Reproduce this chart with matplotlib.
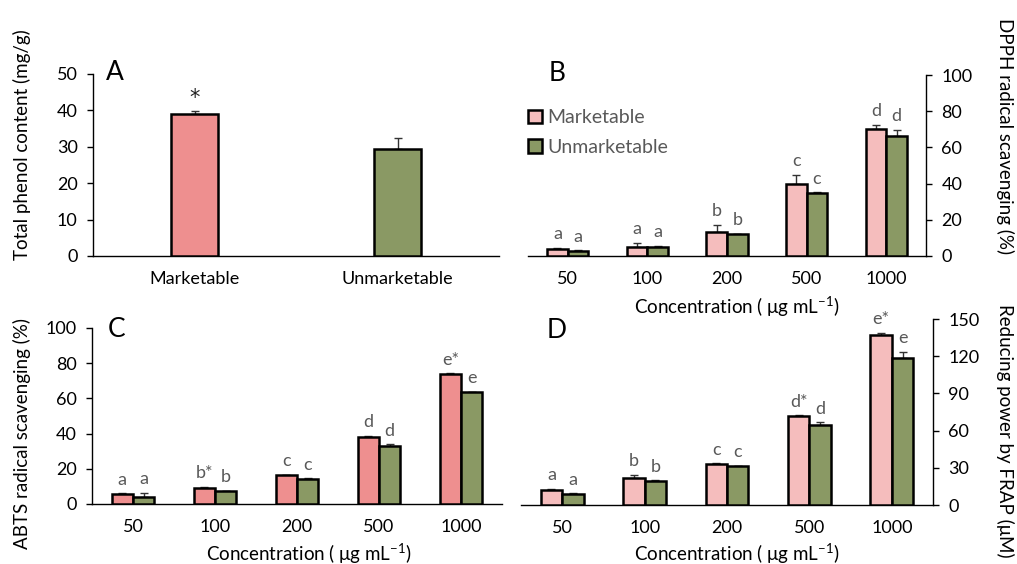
import matplotlib
matplotlib.use("Agg")
import matplotlib.pyplot as plt
import numpy as np

plt.rcParams['font.family'] = ['Lato', 'DejaVu Sans']

# ---------------- data ----------------
groups = ["Marketable", "Unmarketable"]
conc = ["50", "100", "200", "500", "1000"]

phenol = [39.0, 29.3]
phenol_err = [0.8, 3.2]
phenol_sig = ["*", ""]

dpph_m = [3.6, 4.8, 13.0, 40.0, 70.2]
dpph_m_err = [1.0, 2.6, 4.4, 5.0, 2.4]
dpph_u = [2.8, 5.0, 12.0, 35.0, 66.4]
dpph_u_err = [0.4, 0.6, 0.4, 0.3, 3.3]
dpph_m_sig = ["a", "a", "b", "c", "d"]
dpph_u_sig = ["a", "a", "b", "c", "d"]

abts_m = [5.5, 9.3, 16.2, 38.0, 74.1]
abts_m_err = [0.7, 0.4, 0.5, 0.9, 0.3]
abts_u = [4.2, 7.2, 14.3, 33.0, 63.5]
abts_u_err = [2.2, 0.4, 0.4, 0.9, 0.3]
abts_m_sig = ["a", "b*", "c", "d", "e*"]
abts_u_sig = ["a", "b", "c", "d", "e"]

frap_m = [12.4, 21.5, 33.1, 71.4, 137.4]
frap_m_err = [0.8, 2.7, 0.4, 0.8, 1.6]
frap_u = [8.9, 19.4, 31.2, 64.4, 118.8]
frap_u_err = [0.6, 0.4, 0.5, 2.4, 4.8]
frap_m_sig = ["a", "b", "c", "d*", "e*"]
frap_u_sig = ["a", "b", "c", "d", "e"]

PINK_DARK = "#EE8F8F"
PINK_LIGHT = "#F5BDBD"
GREEN = "#8A9964"
GRAY_TXT = "#595959"
FS = 13
FSL = 13.5

W, H = 1017, 564
fig = plt.figure(figsize=(W / 100, H / 100), dpi=100)


def rect(l, r, t, b):
    return [l / W, 1 - b / H, (r - l) / W, (b - t) / H]


def style(ax, side):
    for s in ["top", "left", "right"]:
        ax.spines[s].set_visible(False)
    ax.spines[side].set_visible(True)
    for s in [side, "bottom"]:
        ax.spines[s].set_linewidth(1.0)
        ax.spines[s].set_color("black")
    if side == "right":
        ax.yaxis.tick_right()
        ax.yaxis.set_label_position("right")
    ax.tick_params(axis="y", direction="out", length=4, width=1.0, pad=7, labelsize=FS, colors="black")
    ax.tick_params(axis="x", length=0, pad=11, labelsize=FS)


def errbars(ax, x, vals, errs):
    ax.errorbar(x, vals, yerr=[np.zeros(len(vals)), errs], fmt="none",
                ecolor="#333333", elinewidth=1.0, capsize=3, capthick=1.0, zorder=2)


def labels(ax, x, vals, errs, sig, color, fs=FS, family=None, dy=4):
    for xi, v, e, s in zip(x, vals, errs, sig):
        if s:
            kw = {"family": family} if family else {}
            ax.annotate(s, (xi, v + e), xytext=(0, dy), textcoords="offset points",
                        ha="center", va="bottom", fontsize=fs, color=color, **kw)


def paired(ax, m, me, u, ue, ms, us, pink, ylim, yticks):
    x = np.arange(len(conc))
    w = 0.26
    ax.bar(x - w / 2, m, w, color=pink, edgecolor="black", linewidth=1.8, zorder=3, label=groups[0])
    ax.bar(x + w / 2, u, w, color=GREEN, edgecolor="black", linewidth=1.8, zorder=3, label=groups[1])
    errbars(ax, x - w / 2, m, me)
    errbars(ax, x + w / 2, u, ue)
    labels(ax, x - w / 2, m, me, ms, GRAY_TXT)
    labels(ax, x + w / 2, u, ue, us, GRAY_TXT)
    ax.set_xlim(-0.5, len(conc) - 0.5)
    ax.set_xticks(x)
    ax.set_xticklabels(conc)
    ax.set_ylim(*ylim)
    ax.set_yticks(yticks)


xlab = "Concentration ( \u03bcg mL$^{\\mathregular{-1}}$)"

# ---------- A ----------
axA = fig.add_axes(rect(93, 499, 74, 256))
style(axA, "left")
xa = np.arange(len(groups))
axA.bar(xa, phenol, 0.23, color=[PINK_DARK, GREEN], edgecolor="black", linewidth=1.8, zorder=3)
errbars(axA, xa, phenol, phenol_err)
labels(axA, xa, phenol, phenol_err, phenol_sig, "#222222", fs=15, family="DejaVu Sans", dy=2)
axA.set_xlim(-0.5, 1.5)
axA.set_xticks(xa)
axA.set_xticklabels(groups)
axA.set_ylim(0, 50)
axA.set_yticks(range(0, 51, 10))
axA.set_ylabel("Total phenol content (mg/g)", fontsize=FSL, va="center")
axA.yaxis.set_label_coords(-0.175, 0.61)
axA.text(0.054, 1.01, "A", transform=axA.transAxes, fontsize=19, ha="center", va="center")

# ---------- B ----------
axB = fig.add_axes(rect(528, 926, 75, 256))
style(axB, "right")
paired(axB, dpph_m, dpph_m_err, dpph_u, dpph_u_err, dpph_m_sig, dpph_u_sig,
       PINK_LIGHT, (0, 100), range(0, 101, 20))
axB.set_ylabel("DPPH radical scavenging (%)", fontsize=FSL, rotation=-90, va="center")
axB.yaxis.set_label_coords(1.198, 0.66)
axB.set_xlabel(xlab, fontsize=FSL, va="center")
axB.xaxis.set_label_coords(0.525, -0.28)
axB.text(0.073, 1.01, "B", transform=axB.transAxes, fontsize=19, ha="center", va="center")
leg = axB.legend(loc="upper left", bbox_to_anchor=(0.0, 0.81), frameon=False, fontsize=14,
                 handlelength=0.7, handleheight=0.7, handletextpad=0.3, labelspacing=0.65,
                 borderaxespad=0, borderpad=0)
for t in leg.get_texts():
    t.set_color(GRAY_TXT)

# ---------- C ----------
axC = fig.add_axes(rect(92, 502, 328, 504))
style(axC, "left")
paired(axC, abts_m, abts_m_err, abts_u, abts_u_err, abts_m_sig, abts_u_sig,
       PINK_DARK, (0, 100), range(0, 101, 20))
axC.set_ylabel("ABTS radical scavenging (%)", fontsize=FSL, va="center")
axC.yaxis.set_label_coords(-0.17, 0.40)
axC.set_xlabel(xlab, fontsize=FSL, va="center")
axC.xaxis.set_label_coords(0.53, -0.28)
axC.text(0.061, 0.99, "C", transform=axC.transAxes, fontsize=19, ha="center", va="center")

# ---------- D ----------
axD = fig.add_axes(rect(521, 933, 319, 505))
style(axD, "right")
paired(axD, frap_m, frap_m_err, frap_u, frap_u_err, frap_m_sig, frap_u_sig,
       PINK_LIGHT, (0, 150), range(0, 151, 30))
axD.set_ylabel("Reducing power by FRAP (\u03bcM)", fontsize=FSL, rotation=-90, va="center")
axD.yaxis.set_label_coords(1.175, 0.40)
axD.set_xlabel(xlab, fontsize=FSL, va="center")
axD.xaxis.set_label_coords(0.524, -0.26)
axD.text(0.087, 0.94, "D", transform=axD.transAxes, fontsize=19, ha="center", va="center")

fig.savefig("out.png", dpi=100)
